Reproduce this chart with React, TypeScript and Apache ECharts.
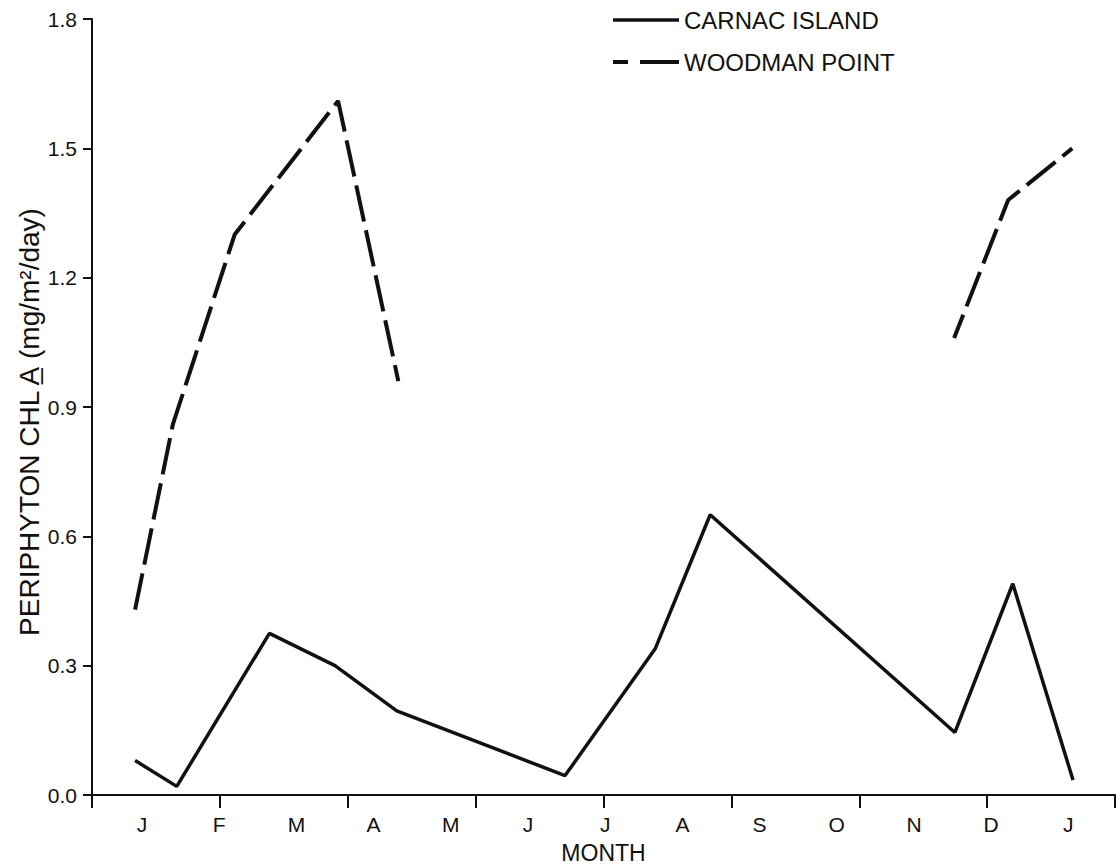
import React, { useEffect, useRef } from "react";
import * as echarts from "echarts";

// Month letters, one per label position (month index 0..12)
const MONTHS = ["J", "F", "M", "A", "M", "J", "J", "A", "S", "O", "N", "D", "J"];

// Carnac Island: sample time (month index) and periphyton chl a (mg/m²/day)
const carnacMonth = [-0.09, 0.45, 1.65, 2.5, 3.3, 5.48, 6.65, 7.36, 10.53, 11.28, 12.06];
const carnacChl = [0.08, 0.02, 0.375, 0.3, 0.195, 0.045, 0.34, 0.65, 0.145, 0.49, 0.035];

// Woodman Point, first run of samples
const woodmanMonthA = [-0.09, 0.4, 1.2, 2.54, 3.32];
const woodmanChlA = [0.43, 0.86, 1.3, 1.61, 0.96];

// Woodman Point, second run of samples
const woodmanMonthB = [10.52, 11.22, 12.05];
const woodmanChlB = [1.06, 1.38, 1.5];

// Y axis scale
const Y_MIN = 0;
const Y_MAX = 1.8;
const Y_STEP = 0.3;

// X axis extent in month-index units and number of equal tick intervals
const X_MIN = -0.648;
const X_MAX = 12.604;
const X_TICK_INTERVALS = 8;

const FONT = "'Liberation Sans', Arial, Helvetica, sans-serif";
const INK = "#111";

// Legend keys: a solid bar and a short + long dash
const SOLID_KEY = "path://M0,0h66v3.5h-66z";
const DASHED_KEY = "path://M0,0h15v4h-15z M27,0h39v4h-39z";

const pairs = (xs: number[], ys: number[]) => xs.map((x, i) => [x, ys[i]]);

export default function App() {
  const ref = useRef<HTMLDivElement>(null);

  useEffect(() => {
    if (!ref.current) return;
    const chart = echarts.init(ref.current, null, { renderer: "svg" });

    const xTicks = Array.from(
      { length: X_TICK_INTERVALS + 1 },
      (_, k) => X_MIN + (k * (X_MAX - X_MIN)) / X_TICK_INTERVALS
    );
    const monthPositions = MONTHS.map((_, i) => i);

    const dashed = { type: [37, 9] as number[], width: 4, color: INK };

    chart.setOption({
      animation: false,
      backgroundColor: "#fff",
      textStyle: { fontFamily: FONT, color: INK },
      grid: {
        left: 92,
        right: 4,
        top: 19,
        bottom: 72,
        containLabel: false,
        outerBoundsMode: "none",
      },
      legend: {
        orient: "vertical",
        left: 613,
        top: 8,
        padding: 0,
        itemWidth: 66,
        itemHeight: 20,
        itemGap: 18,
        data: [
          { name: "CARNAC ISLAND", icon: SOLID_KEY },
          { name: "WOODMAN POINT", icon: DASHED_KEY },
        ],
        itemStyle: { color: INK, borderWidth: 0 },
        textStyle: { fontFamily: FONT, fontSize: 24, color: INK },
        selectedMode: false,
      },
      xAxis: {
        type: "value",
        min: X_MIN,
        max: X_MAX,
        name: "MONTH",
        nameLocation: "middle",
        nameGap: 46,
        nameMoveOverlap: false,
        nameTextStyle: { fontFamily: FONT, fontSize: 23, color: INK },
        axisLine: { show: true, onZero: false, lineStyle: { color: INK, width: 2 } },
        axisTick: {
          show: true,
          customValues: xTicks,
          length: 13,
          lineStyle: { color: INK, width: 2 },
        },
        axisLabel: {
          customValues: monthPositions,
          formatter: (v: number) => MONTHS[Math.round(v)] ?? "",
          fontFamily: FONT,
          fontSize: 21,
          color: INK,
          margin: 19,
        },
        splitLine: { show: false },
      },
      yAxis: {
        type: "value",
        min: Y_MIN,
        max: Y_MAX,
        interval: Y_STEP,
        name: "PERIPHYTON CHL A\u0332 (mg/m\u00b2/day)",
        nameLocation: "middle",
        nameGap: 49,
        nameMoveOverlap: false,
        nameTextStyle: {
          fontFamily: FONT,
          fontSize: 28,
          color: INK,
          padding: [0, 30, 0, 0],
        },
        axisLine: { show: true, onZero: false, lineStyle: { color: INK, width: 2 } },
        axisTick: { show: true, length: 9, lineStyle: { color: INK, width: 2 } },
        axisLabel: {
          formatter: (v: number) => v.toFixed(1),
          fontFamily: FONT,
          fontSize: 21,
          color: INK,
          margin: 15,
        },
        splitLine: { show: false },
      },
      series: [
        {
          name: "CARNAC ISLAND",
          type: "line",
          data: pairs(carnacMonth, carnacChl),
          showSymbol: false,
          symbol: "none",
          lineStyle: { type: "solid", width: 3.5, color: INK },
          itemStyle: { color: INK },
        },
        {
          name: "WOODMAN POINT",
          type: "line",
          data: pairs(woodmanMonthA, woodmanChlA),
          showSymbol: false,
          symbol: "none",
          lineStyle: dashed,
          itemStyle: { color: INK },
        },
        {
          name: "WOODMAN POINT",
          type: "line",
          data: pairs(woodmanMonthB, woodmanChlB),
          showSymbol: false,
          symbol: "none",
          lineStyle: { ...dashed, dashOffset: 12 },
          itemStyle: { color: INK },
        },
      ],
    });

    return () => chart.dispose();
  }, []);

  return (
    <div
      ref={ref}
      style={{ position: "fixed", left: 0, top: 0, width: 1119, height: 867, background: "#fff" }}
    />
  );
}
